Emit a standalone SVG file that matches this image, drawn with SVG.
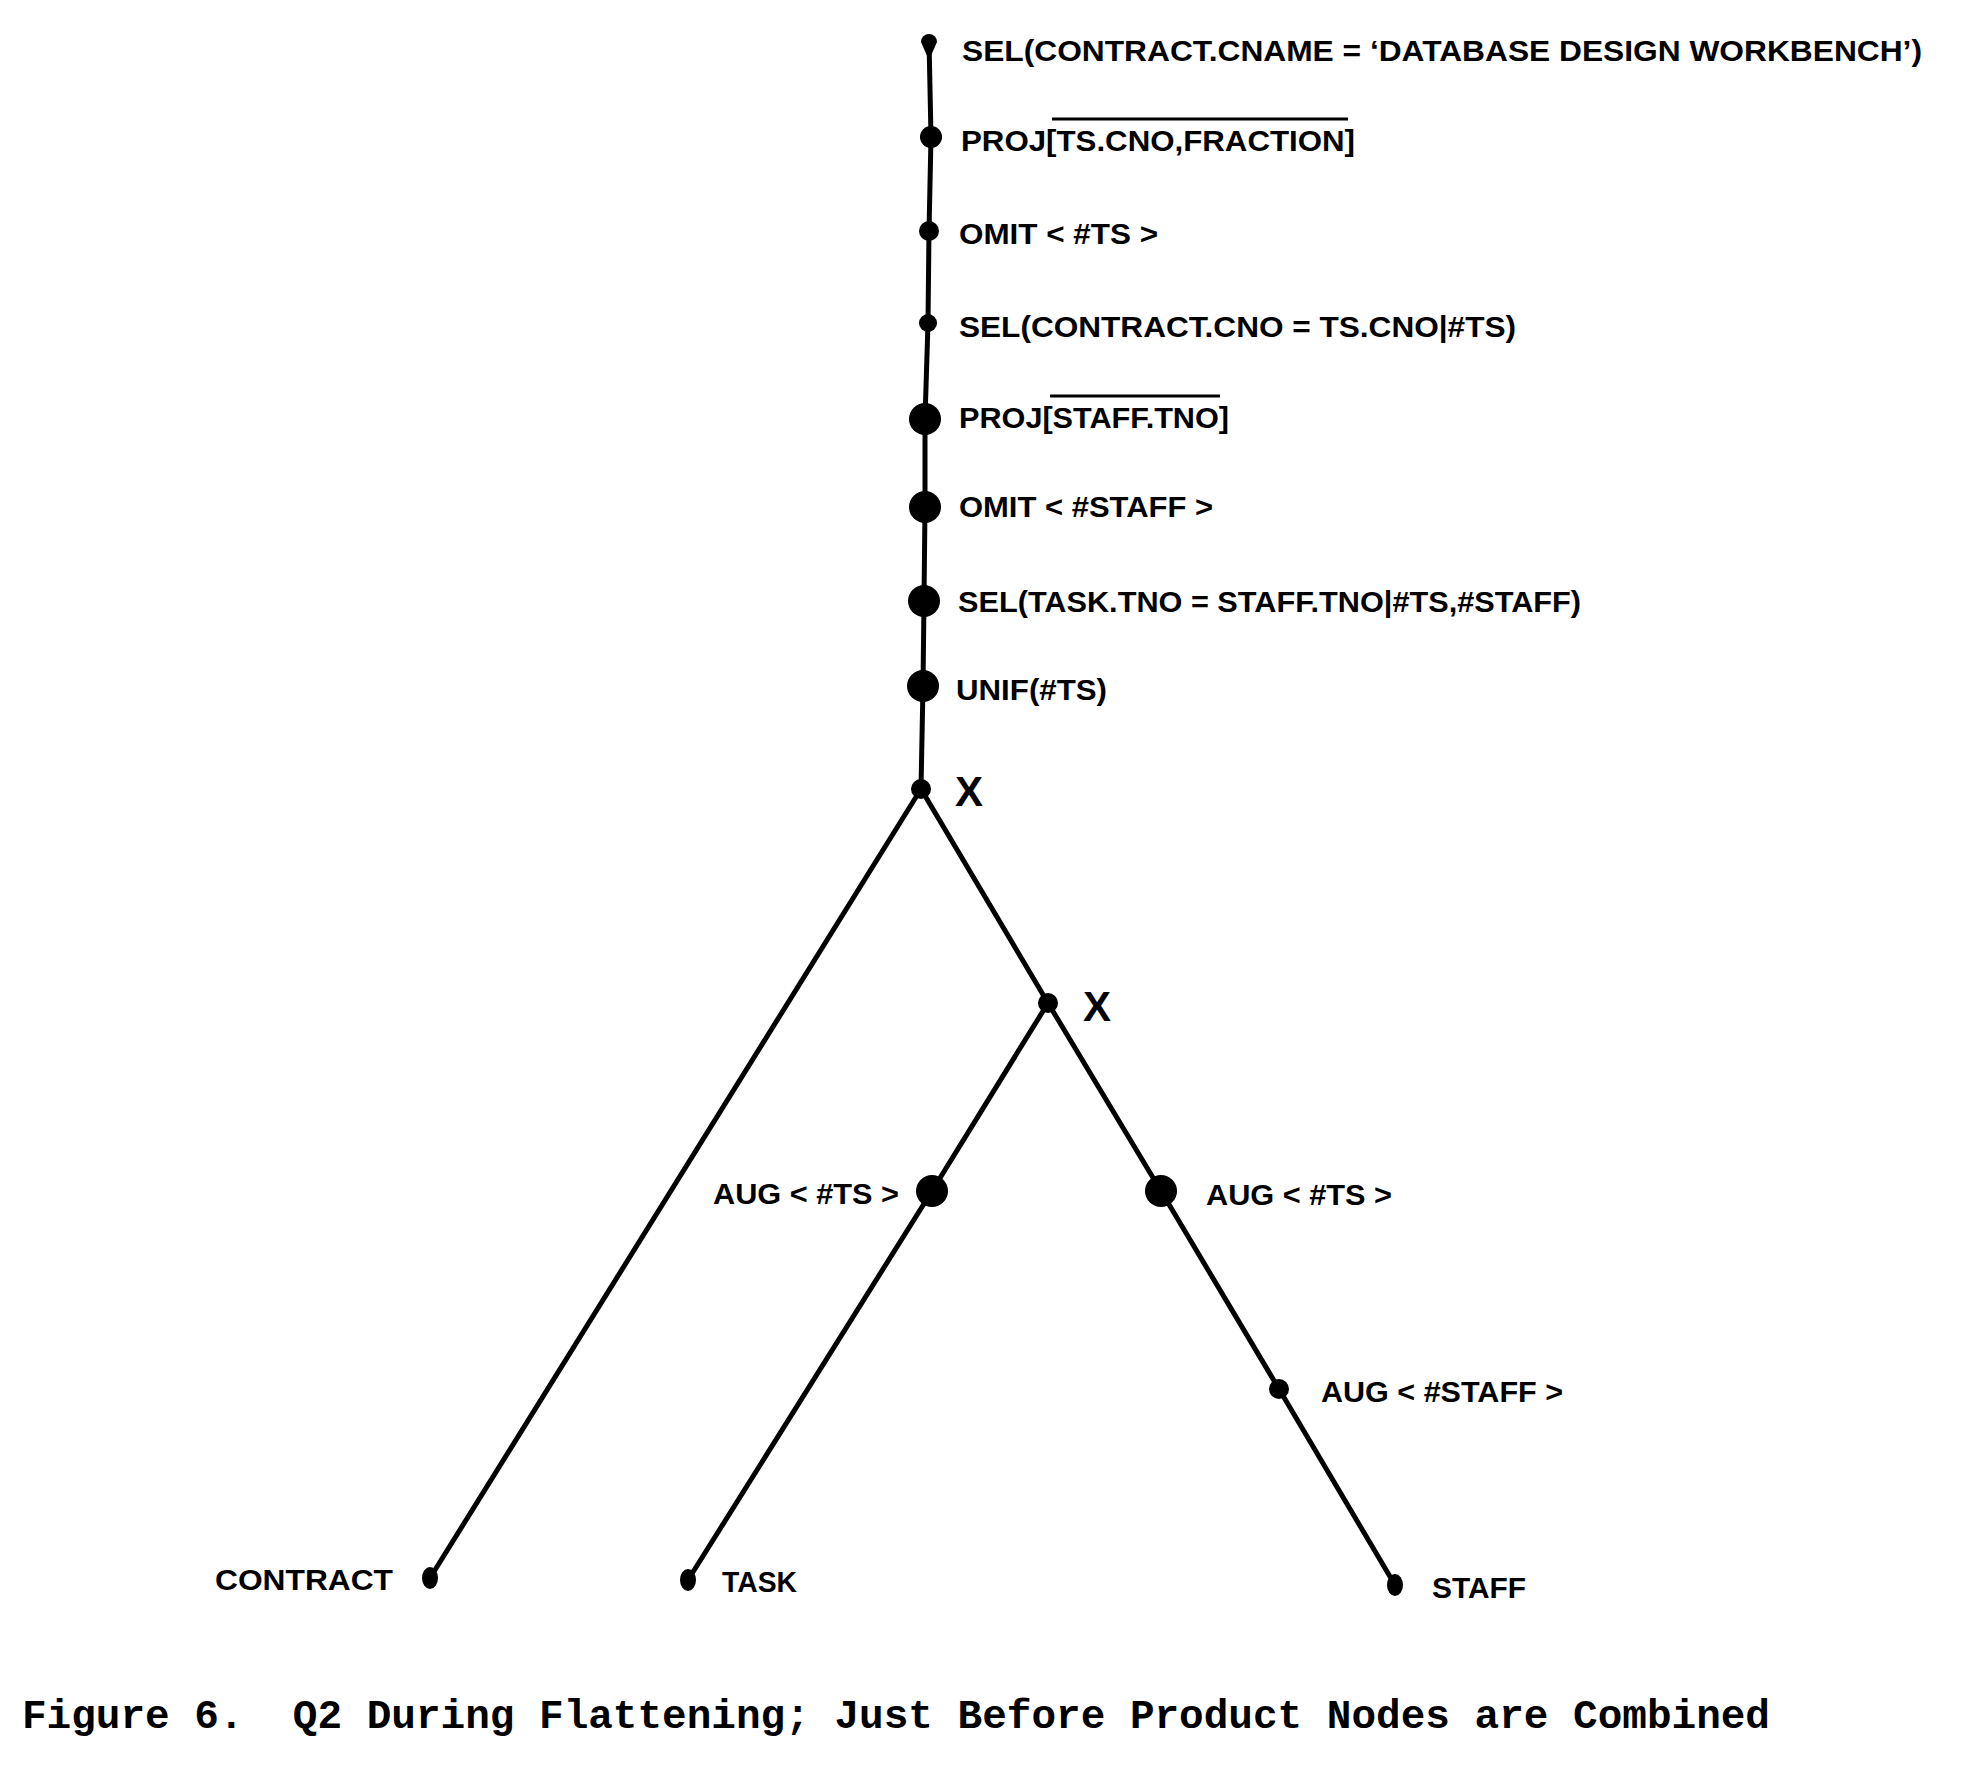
<svg xmlns="http://www.w3.org/2000/svg" width="1964" height="1772" viewBox="0 0 1964 1772">
<style>
.edge{stroke:#000;stroke-width:5;fill:none;stroke-linecap:round;stroke-linejoin:round}
.dot{fill:#000}
.lbl{font-family:"Liberation Sans",Arial,sans-serif;font-weight:bold;font-size:29px;fill:#000}
.op{font-family:"Liberation Sans",Arial,sans-serif;font-weight:bold;font-size:42px;fill:#000}
.ovl{stroke:#000;stroke-width:3}
.cap{font-family:"Liberation Mono","Courier New",monospace;font-weight:bold;font-size:41px;fill:#000;white-space:pre}
</style>
<rect width="1964" height="1772" fill="#fff"/>
<g id="connectors">
<polyline class="edge" points="929,40 931,137 929,231 928,323 925,419 925,507 924,601 923,686 921,789"/>
<line class="edge" x1="921" y1="789" x2="430" y2="1578"/>
<line class="edge" x1="921" y1="789" x2="1048" y2="1003"/>
<polyline class="edge" points="1048,1003 932,1191 688,1580"/>
<polyline class="edge" points="1048,1003 1161,1191 1279,1389 1395,1585"/>
</g>
<g id="n-sel-cname">
<path class="dot" d="M921,42 A8,8 0 1 1 937,42 L930,58 L928,58 Z"/>
<text class="lbl" x="962" y="61" textLength="960" lengthAdjust="spacingAndGlyphs">SEL(CONTRACT.CNAME = ‘DATABASE DESIGN WORKBENCH’)</text>
</g>
<g id="n-proj-ts">
<circle class="dot" cx="931" cy="137" r="11"/>
<text class="lbl" x="961" y="151" textLength="394" lengthAdjust="spacingAndGlyphs">PROJ[TS.CNO,FRACTION]</text>
<line class="ovl" x1="1052" y1="119" x2="1348" y2="119"/>
</g>
<g id="n-omit-ts">
<circle class="dot" cx="929" cy="231" r="10"/>
<text class="lbl" x="959" y="244" textLength="199" lengthAdjust="spacingAndGlyphs">OMIT &lt; #TS &gt;</text>
</g>
<g id="n-sel-cno">
<circle class="dot" cx="928" cy="323" r="9"/>
<text class="lbl" x="959" y="337" textLength="557" lengthAdjust="spacingAndGlyphs">SEL(CONTRACT.CNO = TS.CNO|#TS)</text>
</g>
<g id="n-proj-staff">
<circle class="dot" cx="925" cy="419" r="16"/>
<text class="lbl" x="959" y="428" textLength="270" lengthAdjust="spacingAndGlyphs">PROJ[STAFF.TNO]</text>
<line class="ovl" x1="1050" y1="396" x2="1220" y2="396"/>
</g>
<g id="n-omit-staff">
<circle class="dot" cx="925" cy="507" r="16"/>
<text class="lbl" x="959" y="517" textLength="254" lengthAdjust="spacingAndGlyphs">OMIT &lt; #STAFF &gt;</text>
</g>
<g id="n-sel-tno">
<circle class="dot" cx="924" cy="601" r="16"/>
<text class="lbl" x="958" y="612" textLength="623" lengthAdjust="spacingAndGlyphs">SEL(TASK.TNO = STAFF.TNO|#TS,#STAFF)</text>
</g>
<g id="n-unif">
<circle class="dot" cx="923" cy="686" r="16"/>
<text class="lbl" x="956" y="700" textLength="151" lengthAdjust="spacingAndGlyphs">UNIF(#TS)</text>
</g>
<g id="n-x1">
<circle class="dot" cx="921" cy="789" r="10"/>
<text class="op" x="955" y="806">X</text>
</g>
<g id="n-x2">
<circle class="dot" cx="1048" cy="1003" r="10"/>
<text class="op" x="1083" y="1021">X</text>
</g>
<g id="n-aug-ts-left">
<circle class="dot" cx="932" cy="1191" r="16"/>
<text class="lbl" x="713" y="1204" textLength="186" lengthAdjust="spacingAndGlyphs">AUG &lt; #TS &gt;</text>
</g>
<g id="n-aug-ts-right">
<circle class="dot" cx="1161" cy="1191" r="16"/>
<text class="lbl" x="1206" y="1205" textLength="186" lengthAdjust="spacingAndGlyphs">AUG &lt; #TS &gt;</text>
</g>
<g id="n-aug-staff">
<circle class="dot" cx="1279" cy="1389" r="10"/>
<text class="lbl" x="1321" y="1402" textLength="242" lengthAdjust="spacingAndGlyphs">AUG &lt; #STAFF &gt;</text>
</g>
<g id="n-contract">
<ellipse class="dot" cx="430" cy="1578" rx="8" ry="11"/>
<text class="lbl" x="215" y="1590" textLength="178" lengthAdjust="spacingAndGlyphs">CONTRACT</text>
</g>
<g id="n-task">
<ellipse class="dot" cx="688" cy="1580" rx="8" ry="11"/>
<text class="lbl" x="722" y="1592" textLength="75" lengthAdjust="spacingAndGlyphs">TASK</text>
</g>
<g id="n-staff">
<ellipse class="dot" cx="1395" cy="1585" rx="8" ry="11"/>
<text class="lbl" x="1432" y="1598" textLength="94" lengthAdjust="spacingAndGlyphs">STAFF</text>
</g>
<g id="caption">
<text class="cap" xml:space="preserve" x="22" y="1728" textLength="1748" lengthAdjust="spacingAndGlyphs">Figure 6.  Q2 During Flattening; Just Before Product Nodes are Combined</text>
</g>
</svg>
